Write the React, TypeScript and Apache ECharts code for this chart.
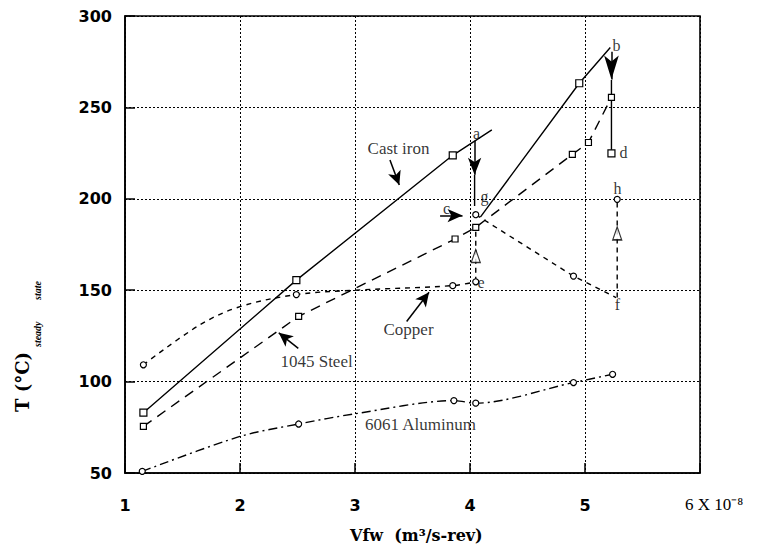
import React, { useEffect, useRef } from "react";
import * as echarts from "echarts";

// ---- axes ----
const X_MIN = 1;
const X_MAX = 6;
const Y_MIN = 50;
const Y_MAX = 300;

// ---- series data [Vfw (x1e-8), T] ----
const castIronA = [[1.16, 83], [2.49, 155.5], [3.85, 223.8], [4.19, 237.7]];
const castIronAMarked = [1, 1, 1, 0];
const castIronB = [[4.09, 190], [4.95, 263.2], [5.22, 282.8]];
const castIronBMarked = [0, 1, 0];

const steel = [[1.16, 75.5], [2.51, 135.7], [3.87, 178], [4.05, 184.4], [4.89, 224.3], [5.03, 230.8], [5.23, 255.5]];
const steelMarked = [1, 1, 1, 1, 1, 1, 1];

const copperA = [[1.16, 109.2], [1.65, 131], [2, 141], [2.49, 147.6], [3, 150], [3.85, 152.5], [4.05, 154.6]];
const copperAMarked = [1, 0, 0, 1, 0, 1, 1];
const copperB = [[4.05, 191.3], [4.9, 157.7], [5.27, 146]];
const copperBMarked = [1, 1, 0];

const aluminum = [[1.15, 50.9], [2, 70], [2.51, 76.8], [3, 82.4], [3.86, 89.6], [4.05, 88.2], [4.9, 99.5], [5.24, 104]];
const aluminumMarked = [1, 0, 1, 0, 1, 1, 1, 1];

// transitions
const dropA = [[4.04, 213.1], [4.04, 196]];
const dropB = [[5.23, 265], [5.23, 255.5], [5.23, 224.9]];
const dropBMarked = [0, 0, 1];
const riseE = [[4.05, 154.6], [4.05, 184.4]];
const riseF = [[5.28, 146], [5.28, 199.7]];
const riseFMarked = [0, 1];

// filled arrows (from -> to), and their head sizes
const arrowFrom = [[4.04, 231.7], [5.23, 280.5], [3.74, 190.8], [3.304, 221.2], [3.449, 132.9], [2.507, 118.2]];
const arrowTo = [[4.04, 213.1], [5.23, 265.2], [3.935, 190.8], [3.385, 207.5], [3.644, 148.9], [2.337, 126.7]];
const arrowHead = [[10, 17], [11, 24], [10, 15], [10, 14], [10, 14], [10, 14]];

// open arrows (pointing up)
const openArrows = [[4.05, 168.7], [5.28, 181.1]];

// text annotations
const labelTexts = ["Cast iron", "Copper", "1045 Steel", "6061 Aluminum"];
const labelAt = [[3.383, 227.1], [3.47, 128.5], [2.67, 110.9], [3.574, 76.4]];
const pointNames = ["a", "b", "c", "d", "e", "f", "g", "h"];
const pointNameAt = [[4.061, 235.3], [5.278, 283.6], [3.8, 194.2], [5.339, 224.9], [4.1, 154.2], [5.287, 141.9], [4.13, 200.8], [5.287, 205.5]];

const SERIF = '"Liberation Serif", "Times New Roman", serif';
const SANS = '"DejaVu Sans", sans-serif';

const withMarks = (pts: number[][], marked: number[], symbol: string, size = 6) =>
  pts.map((p, i) => ({ value: p, symbol: marked[i] ? symbol : "none", symbolSize: size }));

function lineSeries(name: string, data: any[], dash: any, smooth: number | boolean = false) {
  return {
    type: "line",
    name,
    data,
    smooth,
    symbol: "rect",
    showSymbol: true,
    silent: true,
    lineStyle: { color: "#000", width: 1.4, type: dash },
    itemStyle: { color: "#fff", borderColor: "#000", borderWidth: 1.2 },
    z: 3,
  };
}

const plainLabel = {
  show: true,
  position: [0, 0],
  align: "center",
  verticalAlign: "middle",
  formatter: "{b}",
  color: "#000",
  fontFamily: SERIF,
  textBorderWidth: 0,
};

export default function App() {
  const ref = useRef<HTMLDivElement>(null);
  useEffect(() => {
    if (!ref.current) return;
    const chart = echarts.init(ref.current, null, { renderer: "svg" });
    const axisCommon = {
      axisLine: { show: true, lineStyle: { color: "#000", width: 1.6 } },
      axisTick: { show: true, inside: true, length: 10, lineStyle: { color: "#000", width: 1.5 } },
      splitLine: { show: true, lineStyle: { color: "#000", width: 1, type: [2, 2] } },
    };
    const option: any = {
      animation: false,
      backgroundColor: "#fff",
      color: ["#000"],
      grid: { left: 125, right: 66, top: 16, bottom: 77, show: true, borderColor: "#000", borderWidth: 1.6, backgroundColor: "transparent" },
      xAxis: {
        type: "value",
        min: X_MIN,
        max: X_MAX,
        interval: 1,
        ...axisCommon,
        axisLabel: {
          margin: 24,
          color: "#000",
          fontFamily: SANS,
          fontWeight: "bold",
          fontSize: 16,
          formatter: (v: number) => (v === X_MAX ? "" : String(v)),
        },
      },
      yAxis: {
        type: "value",
        min: Y_MIN,
        max: Y_MAX,
        interval: 50,
        ...axisCommon,
        axisLabel: { margin: 13, color: "#000", fontFamily: SANS, fontWeight: "bold", fontSize: 16 },
      },
      graphic: [
        {
          type: "text",
          x: 350,
          y: 535,
          silent: true,
          style: {
            text: "Vfw  (m³/s-rev)",
            font: 'bold 16px "DejaVu Serif", serif',
            fill: "#000",
            align: "left",
            verticalAlign: "middle",
            textAlign: "left",
            textVerticalAlign: "middle",
          },
        },
        {
          type: "text",
          x: 685,
          y: 504,
          silent: true,
          style: {
            text: "6 X 10⁻⁸",
            font: `17px ${SERIF}`,
            fill: "#000",
            align: "left",
            verticalAlign: "middle",
            textAlign: "left",
            textVerticalAlign: "middle",
          },
        },
        {
          type: "group",
          x: 22,
          y: 412,
          rotation: Math.PI / 2,
          silent: true,
          children: [
            {
              type: "text",
              x: 0,
              y: 0,
              style: {
                text: "T (°C)",
                font: 'bold 18px "DejaVu Serif", serif',
                fill: "#000",
                align: "left",
                verticalAlign: "middle",
                textAlign: "left",
                textVerticalAlign: "middle",
              },
            },
            {
              type: "text",
              x: 65,
              y: 15,
              style: {
                text: "steady",
                font: `italic bold 10px ${SERIF}`,
                fill: "#000",
                align: "left",
                verticalAlign: "middle",
                textAlign: "left",
                textVerticalAlign: "middle",
              },
            },
            {
              type: "text",
              x: 112,
              y: 15,
              style: {
                text: "state",
                font: `italic bold 10px ${SERIF}`,
                fill: "#000",
                align: "left",
                verticalAlign: "middle",
                textAlign: "left",
                textVerticalAlign: "middle",
              },
            },
          ],
        },
      ],
      series: [
        lineSeries("Cast iron", withMarks(castIronA, castIronAMarked, "rect", 7), "solid"),
        lineSeries("Cast iron (2)", withMarks(castIronB, castIronBMarked, "rect", 7), "solid"),
        lineSeries("1045 Steel", withMarks(steel, steelMarked, "rect", 6), [10, 7]),
        lineSeries("Copper", withMarks(copperA, copperAMarked, "circle", 6), [5, 5], 0.35),
        lineSeries("Copper (2)", withMarks(copperB, copperBMarked, "circle", 6), [5, 5]),
        lineSeries("6061 Aluminum", withMarks(aluminum, aluminumMarked, "circle", 6), [9, 4, 2, 4], 0.3),
        lineSeries("drop a", withMarks(dropA, [0, 0], "rect"), "solid"),
        lineSeries("drop b", withMarks(dropB, dropBMarked, "rect", 7), "solid"),
        lineSeries("rise e", withMarks(riseE, [0, 0], "circle"), [5, 4]),
        lineSeries("rise f", withMarks(riseF, riseFMarked, "circle", 6), [5, 4]),
        {
          type: "scatter",
          name: "open arrows",
          silent: true,
          z: 4,
          symbol: "triangle",
          symbolSize: [9, 13],
          itemStyle: { color: "#fff", borderColor: "#000", borderWidth: 1.3 },
          data: openArrows,
        },
        {
          type: "scatter",
          name: "labels",
          silent: true,
          z: 5,
          symbolSize: 1,
          itemStyle: { color: "rgba(0,0,0,0)" },
          label: { ...plainLabel, fontSize: 17 },
          data: labelAt.map((p, i) => ({ value: p, name: labelTexts[i] })),
          markLine: {
            silent: true,
            symbol: ["none", "arrow"],
            label: { show: false },
            lineStyle: { color: "#000", width: 1.5, type: "solid" },
            itemStyle: { color: "#000" },
            emphasis: { disabled: true },
            data: arrowFrom.map((f, i) => [
              { coord: f, symbol: "none" },
              { coord: arrowTo[i], symbol: "arrow", symbolSize: arrowHead[i] },
            ]),
          },
        },
        {
          type: "scatter",
          name: "points",
          silent: true,
          z: 6,
          symbolSize: 1,
          itemStyle: { color: "rgba(0,0,0,0)" },
          label: { ...plainLabel, fontSize: 16 },
          data: pointNameAt.map((p, i) => ({ value: p, name: pointNames[i] })),
        },
      ],
    };
    chart.setOption(option);
    return () => chart.dispose();
  }, []);
  return <div ref={ref} style={{ position: "absolute", left: 0, top: 0, width: 766, height: 550 }} />;
}
